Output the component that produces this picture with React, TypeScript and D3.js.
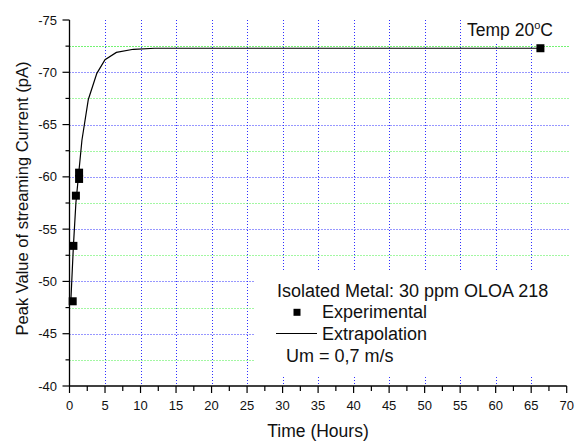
import React from "react";
import * as d3 from "d3";

// Measured streaming current at 20 °C, isolated metal, 30 ppm OLOA 218
const expHours = [0.45, 0.55, 0.9, 1.35, 1.35, 66.3];
const expCurrent = [-48.1, -53.4, -58.2, -59.8, -60.4, -72.3];

// Extrapolated curve through the measurements
const fitHours = [0.2, 0.55, 0.9, 1.35, 1.75, 2.65, 3.85, 5.0, 6.6, 9.0, 12, 20, 66.3];
const fitCurrent = [-48.3, -53.4, -57.5, -60.7, -63.5, -67.4, -69.9, -71.2, -71.9, -72.2, -72.3, -72.3, -72.3];

const xTicks = [0, 5, 10, 15, 20, 25, 30, 35, 40, 45, 50, 55, 60, 65, 70];
const yTicks = [-75, -70, -65, -60, -55, -50, -45, -40];
const yMinorGrid = [-42.5, -47.5, -52.5, -57.5, -62.5, -67.5, -72.5];
const xMinorTicks = d3.range(2.5, 70, 5);
const yMinorTicks = yMinorGrid;

const legendLines = ["Isolated Metal: 30 ppm OLOA 218", "Experimental", "Extrapolation", "Um = 0,7 m/s"];

const W = 575;
const H = 445;
const FONT = "'Liberation Sans', Arial, sans-serif";

// crisp 1px lines
const px = (v: number) => Math.round(v) + 0.5;

export default function App() {
  const x = d3.scaleLinear().domain([0, 70]).range([69.5, 566.7]);
  const y = d3.scaleLinear().domain([-75, -40]).range([20, 386]);

  const line = d3
    .line<number>()
    .x((_, i) => x(fitHours[i]))
    .y((d) => y(d));

  const x0 = x(0);
  const yBase = y(-40);
  const gridRight = 570;
  const sq = 8;
  const blue = "#2f2fff";
  const green = "#44ee44";

  const greenLine = (t: number) => (
    <line
      key={"gy" + t}
      x1={x0}
      x2={gridRight}
      y1={px(y(t))}
      y2={px(y(t))}
      stroke={green}
      strokeWidth={1}
      strokeDasharray="1,2"
    />
  );

  return (
    <svg
      width={W}
      height={H}
      style={{ position: "absolute", left: 0, top: 0, background: "#fff" }}
      fontFamily={FONT}
    >
      <rect width={W} height={H} fill="#fff" />

      {/* major vertical grid */}
      {xTicks
        .filter((t) => t > 0 && t < 70)
        .map((t) => (
          <line
            key={"vx" + t}
            x1={px(x(t))}
            x2={px(x(t))}
            y1={y(-75)}
            y2={yBase}
            stroke={blue}
            strokeWidth={1}
            strokeDasharray="1,2"
          />
        ))}
      {/* major horizontal grid */}
      {yTicks
        .filter((t) => t > -75 && t < -40)
        .map((t) => (
          <line
            key={"hy" + t}
            x1={x0}
            x2={gridRight}
            y1={px(y(t))}
            y2={px(y(t))}
            stroke={blue}
            strokeWidth={1}
            strokeDasharray="1,2"
          />
        ))}
      {/* minor horizontal grid */}
      {yMinorGrid.map(greenLine)}

      {/* label backgrounds */}
      <rect x={464} y={0} width={W - 464} height={44} fill="#fff" />
      <rect x={255} y={270} width={W - 255} height={106} fill="#fff" />
      {/* minor line runs through the temperature box */}
      {greenLine(-72.5)}

      {/* axes */}
      <line x1={x0} x2={x0} y1={y(-75)} y2={yBase} stroke="#000" strokeWidth={1.3} />
      <line x1={x0} x2={x(70)} y1={yBase} y2={yBase} stroke="#000" strokeWidth={1.3} />

      {xTicks.map((t) => (
        <g key={"xt" + t}>
          <line x1={x(t)} x2={x(t)} y1={yBase} y2={yBase + 7} stroke="#000" strokeWidth={1.2} />
          <text x={x(t)} y={410} fontSize={13} textAnchor="middle" fill="#111">
            {t}
          </text>
        </g>
      ))}
      {xMinorTicks.map((t) => (
        <line key={"xm" + t} x1={x(t)} x2={x(t)} y1={yBase} y2={yBase + 5} stroke="#000" strokeWidth={1.2} />
      ))}
      {yTicks.map((t) => (
        <g key={"yt" + t}>
          <line x1={x0 - 7} x2={x0} y1={y(t)} y2={y(t)} stroke="#000" strokeWidth={1.2} />
          <text x={57} y={y(t)} dy="0.35em" fontSize={13} textAnchor="end" fill="#111">
            {t}
          </text>
        </g>
      ))}
      {yMinorTicks.map((t) => (
        <line key={"ym" + t} x1={x0 - 4} x2={x0} y1={y(t)} y2={y(t)} stroke="#000" strokeWidth={1.2} />
      ))}

      {/* axis titles */}
      <text x={318} y={437} fontSize={17.5} textAnchor="middle" fill="#111">
        Time (Hours)
      </text>
      <text
        transform={`translate(28,${198.5}) rotate(-90)`}
        fontSize={16.5}
        textAnchor="middle"
        fill="#111"
      >
        Peak Value of streaming Current (pA)
      </text>

      {/* extrapolation curve */}
      <path d={line(fitCurrent) || ""} fill="none" stroke="#000" strokeWidth={1.2} />

      {/* experimental points */}
      {expHours.map((h, i) => (
        <rect
          key={"p" + i}
          x={x(h) - sq / 2}
          y={y(expCurrent[i]) - sq / 2}
          width={sq}
          height={sq}
          fill="#000"
        />
      ))}

      {/* temperature label */}
      <text x={467} y={36} fontSize={17.5} fill="#111">
        Temp 20
        <tspan dy={-7} fontSize={11}>
          o
        </tspan>
        <tspan dy={7}>C</tspan>
      </text>

      {/* legend */}
      <text x={277} y={297} fontSize={18} fill="#111">
        {legendLines[0]}
      </text>
      <rect x={297 - 3.5} y={312.3 - 3.5} width={7} height={7} fill="#000" />
      <text x={322} y={318} fontSize={18} fill="#111">
        {legendLines[1]}
      </text>
      <line x1={276} x2={317} y1={333.5} y2={333.5} stroke="#000" strokeWidth={1.2} />
      <text x={322} y={340} fontSize={18} fill="#111">
        {legendLines[2]}
      </text>
      <text x={286} y={362} fontSize={18} fill="#111">
        {legendLines[3]}
      </text>
    </svg>
  );
}
